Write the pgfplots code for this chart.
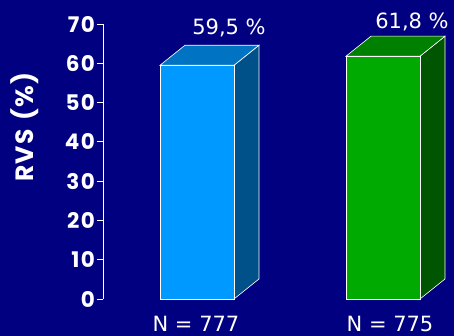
\documentclass[border=0pt]{standalone}
\usepackage{fontspec}
\setmainfont{DejaVu Sans}
\newfontfamily\tickfont{Poppins}[LetterSpace=6]
\newfontfamily\labelfont{Poppins}[LetterSpace=4]
\usepackage{pgfplots}
\pgfplotsset{compat=1.18}
\definecolor{bg}{HTML}{000080}
\definecolor{blueFront}{HTML}{0099FF}
\definecolor{blueTop}{HTML}{0073C2}
\definecolor{blueSide}{HTML}{00508A}
\definecolor{greenFront}{HTML}{00AA00}
\definecolor{greenTop}{HTML}{008000}
\definecolor{greenSide}{HTML}{005500}
\begin{document}
\begin{tikzpicture}
\fill[bg] (0,0) rectangle (454pt,336pt);
\begin{axis}[
  at={(103pt,37pt)}, anchor=south west,
  scale only axis, width=351pt, height=275pt,
  xmin=103, xmax=454, ymin=0, ymax=70,
  axis x line=none, axis y line=left,
  axis line style={white,-, line width=0.8pt},
  ytick={0,10,...,70},
  tick align=outside, major tick length=6pt,
  tick style={white, line width=0.8pt},
  yticklabel style={font=\tickfont\bfseries\fontsize{21.5}{21.5}\selectfont, text=white,
    inner xsep=2pt},
  ylabel={RVS\hspace{9pt}(\%)},
  ylabel style={at={(axis description cs:-0.222,0.625)}, anchor=center,
    font=\labelfont\bfseries\fontsize{25}{25}\selectfont, text=white},
  clip=false,
  /pgf/number format/assume math mode=true,
]
% first bar: side and top faces, then the front
\addplot[fill=blueSide, draw=white, line width=0.6pt]
  coordinates {(234,0) (259,5.1) (259,64.6) (234,59.5)} -- cycle;
\addplot[fill=blueTop, draw=white, line width=0.6pt]
  coordinates {(160,59.5) (185,64.6) (259,64.6) (234,59.5)} -- cycle;
\addplot[ybar, bar width=74pt, fill=blueFront, draw=white, line width=0.8pt,
  nodes near coords={\pgfmathprintnumber[fixed, fixed zerofill, precision=1, use comma]{\pgfplotspointmeta}~\%},
  nodes near coords style={text=white, font=\fontsize{21}{21}\selectfont,
    anchor=center, xshift=32pt, yshift=37pt}]
  coordinates {(197,59.5)};
% second bar
\addplot[fill=greenSide, draw=white, line width=0.6pt]
  coordinates {(420,0) (445,5.1) (445,66.9) (420,61.8)} -- cycle;
\addplot[fill=greenTop, draw=white, line width=0.6pt]
  coordinates {(346,61.8) (371,66.9) (445,66.9) (420,61.8)} -- cycle;
\addplot[ybar, bar width=74pt, fill=greenFront, draw=white, line width=0.8pt,
  nodes near coords={\pgfmathprintnumber[fixed, fixed zerofill, precision=1, use comma]{\pgfplotspointmeta}~\%},
  nodes near coords style={text=white, font=\fontsize{21}{21}\selectfont,
    anchor=center, xshift=29pt, yshift=34pt}]
  coordinates {(383,61.8)};
\node[text=white, font=\fontsize{21}{21}\selectfont, inner sep=0pt] at (axis cs:196,-6.4) {N = 777};
\node[text=white, font=\fontsize{21}{21}\selectfont, inner sep=0pt] at (axis cs:390,-6.4) {N = 775};
\end{axis}
\pgfresetboundingbox
\path (0,0) rectangle (454pt,336pt);
\end{tikzpicture}
\end{document}
